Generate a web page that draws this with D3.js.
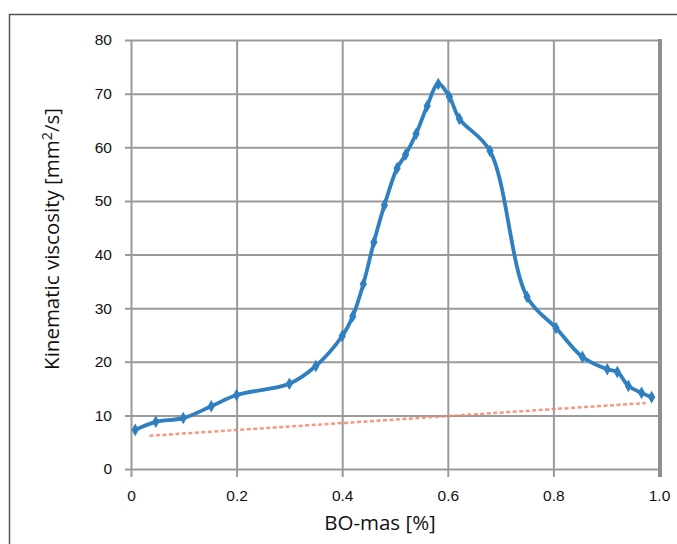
<!DOCTYPE html>
<html>
<head>
<meta charset="utf-8">
<script src="https://cdn.jsdelivr.net/npm/d3@7"></script>
<style>
  body { margin: 0; background: #fff; }
  svg { display: block; font-family: "Open Sans", Lato, sans-serif; }
</style>
</head>
<body>
<svg id="chart"></svg>
<script>
// BO-mas [%] vs kinematic viscosity
const boMas = [0.008, 0.047, 0.099, 0.152, 0.2, 0.3, 0.35, 0.4, 0.42, 0.44, 0.46, 0.48,
  0.504, 0.52, 0.54, 0.561, 0.582, 0.603, 0.622, 0.68, 0.75, 0.805, 0.855, 0.902,
  0.921, 0.942, 0.967, 0.986];
const viscosity = [7.3, 8.8, 9.5, 11.7, 13.8, 15.9, 19.2, 24.8, 28.5, 34.5, 42.3, 49.2,
  56.1, 58.6, 62.5, 67.7, 71.8, 69.4, 65.3, 59.3, 32.1, 26.3, 20.9, 18.6,
  18.1, 15.5, 14.2, 13.4];

// dotted trend line
const trendX = [0.035, 0.975];
const trendY = [6.2, 12.3];

const xTicks = [0, 0.2, 0.4, 0.6, 0.8, 1.0];
const yTicks = [0, 10, 20, 30, 40, 50, 60, 70, 80];

const width = 677;
const height = 544;
const marginLeft = 131;
const marginRight = 18;
const marginTop = 40;
const marginBottom = 75;

const svg = d3.select("#chart")
  .attr("width", width)
  .attr("height", height);

// outer frame (runs off the right and bottom)
svg.append("rect")
  .attr("x", 9.5).attr("y", 14.5)
  .attr("width", 720).attr("height", 600)
  .attr("fill", "none")
  .attr("stroke", "#555")
  .attr("stroke-width", 1.5);

const x = d3.scaleLinear()
  .domain([0, 1])
  .range([marginLeft, width - marginRight]);

const y = d3.scaleLinear()
  .domain([0, 80])
  .range([height - marginBottom, marginTop]);

const gridColor = "#9a9a9a";

// horizontal grid + y axis
const yAxis = svg.append("g")
  .attr("transform", `translate(${marginLeft},0)`)
  .call(d3.axisLeft(y).tickValues(yTicks).tickSize(-(x(1) - x(0))).tickSizeOuter(0).tickPadding(19)
    .tickFormat(d3.format("d")));
yAxis.select(".domain").remove();
yAxis.selectAll(".tick line")
  .attr("x1", -6)
  .attr("stroke", gridColor)
  .attr("stroke-width", 2);
yAxis.selectAll(".tick text")
  .attr("font-size", 15.5)
  .attr("fill", "#111");

// vertical grid + x axis
const xAxis = svg.append("g")
  .attr("transform", `translate(0,${marginTop})`)
  .call(d3.axisBottom(x).tickValues(xTicks).tickSize(y(0) - y(80) + 8).tickSizeOuter(0).tickPadding(13)
    .tickFormat((d, i) => i === xTicks.length - 1 ? "1.0" : (d === 0 ? "0" : d3.format(".1f")(d))));
xAxis.select(".domain").remove();
xAxis.selectAll(".tick line")
  .attr("stroke", gridColor)
  .attr("stroke-width", 2);
xAxis.selectAll(".tick text")
  .attr("font-size", 15.5)
  .attr("fill", "#111");

// thicker right edge of plot area
svg.append("line")
  .attr("x1", x(1) + 1).attr("x2", x(1) + 1)
  .attr("y1", y(80) - 1).attr("y2", y(0) + 8)
  .attr("stroke", "#8f8f8f")
  .attr("stroke-width", 4);

// trend line
svg.append("path")
  .datum(d3.zip(trendX, trendY))
  .attr("fill", "none")
  .attr("stroke", "#f2856d")
  .attr("stroke-opacity", 0.85)
  .attr("stroke-width", 2.5)
  .attr("stroke-dasharray", "4,2.5")
  .attr("d", d3.line().x(d => x(d[0])).y(d => y(d[1])));

// viscosity curve
const pts = d3.zip(boMas, viscosity);
svg.append("path")
  .datum(pts)
  .attr("fill", "none")
  .attr("stroke", "#2f7fc1")
  .attr("stroke-width", 3.8)
  .attr("stroke-linejoin", "round")
  .attr("d", d3.line().curve(d3.curveCatmullRom.alpha(0.5)).x(d => x(d[0])).y(d => y(d[1])));

svg.append("g")
  .selectAll("path")
  .data(pts)
  .join("path")
  .attr("transform", d => `translate(${x(d[0])},${y(d[1])})`)
  .attr("d", d3.symbol(d3.symbolDiamond, 46))
  .attr("fill", "#2f7fc1");

// axis titles
svg.append("text")
  .attr("x", 380)
  .attr("y", 530)
  .attr("text-anchor", "middle")
  .attr("font-size", 20.5)
  .attr("fill", "#111")
  .text("BO-mas [%]");

const yTitle = svg.append("text")
  .attr("transform", "translate(59,239) rotate(-90)")
  .attr("text-anchor", "middle")
  .attr("font-size", 20.5)
  .attr("fill", "#111");
yTitle.append("tspan").text("Kinematic viscosity [mm");
yTitle.append("tspan").attr("font-size", "0.7em").attr("dy", "-0.5em").text("2");
yTitle.append("tspan").attr("dy", "0.35em").text("/s]");
</script>
</body>
</html>
